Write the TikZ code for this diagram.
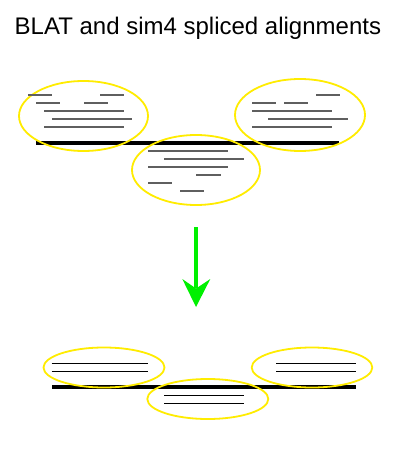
\documentclass[tikz,border=0pt]{standalone}
\usepackage{fontspec}
\setmainfont{Liberation Sans}
\usetikzlibrary{shapes.geometric}
\definecolor{ylw}{RGB}{255,236,0}
\definecolor{grn}{RGB}{0,240,0}
\definecolor{gry}{RGB}{95,95,95}
\tikzset{
  oval/.style={ellipse, draw=ylw, line width=1.8pt, inner sep=0pt},
  hitline/.style={draw=gry, line width=1.5pt},
  mergeline/.style={draw=black, line width=1.1pt},
  genome/.style={draw=black, line width=4.2pt},
}
\begin{document}
\begin{tikzpicture}[x=1pt,y=-1pt]
\useasboundingbox (0,0) rectangle (418,468);
\fill[white] (0,0) rectangle (418,468);
% title
\node[anchor=base west, inner sep=0pt, font=\fontsize{24}{28}\selectfont] (title) at (14.5,34.3) {BLAT and sim4 spliced alignments};
% top genome line
\draw[genome] (36,143) -- (339,143);
% top ellipses
\node[oval, minimum width=129pt, minimum height=70pt] (tl) at (83.5,116) {};
\node[oval, minimum width=130pt, minimum height=72pt] (tr) at (300,115) {};
\node[oval, minimum width=128pt, minimum height=70pt] (tm) at (196,170) {};
% left cluster
\draw[hitline] (28,95) -- (52,95);
\draw[hitline] (100,95) -- (124,95);
\draw[hitline] (36,103) -- (60,103);
\draw[hitline] (84,103) -- (108,103);
\draw[hitline] (44,111) -- (124,111);
\draw[hitline] (52,119) -- (132,119);
\draw[hitline] (44,127) -- (124,127);
% right cluster
\draw[hitline] (316,95) -- (340,95);
\draw[hitline] (252,103) -- (276,103);
\draw[hitline] (284,103) -- (308,103);
\draw[hitline] (252,111) -- (332,111);
\draw[hitline] (268,119) -- (348,119);
\draw[hitline] (252,127) -- (332,127);
% middle cluster
\draw[hitline] (148,151) -- (228,151);
\draw[hitline] (164,159) -- (244,159);
\draw[hitline] (148,167) -- (228,167);
\draw[hitline] (196,175) -- (220.5,175);
\draw[hitline] (148,183) -- (172.3,183);
\draw[hitline] (180,191) -- (204.3,191);
% arrow
\coordinate (as) at (196,227);
\coordinate (ae) at (196,288);
\draw[grn, line width=4pt] (as) -- (ae);
\fill[grn] (182.3,279) -- (196,288.5) -- (210.3,279) -- (196,307) -- cycle;
% bottom genome line
\draw[genome] (52,387.3) -- (356,387.3);
% bottom ellipses
\node[oval, minimum width=121pt, minimum height=40pt] (bl) at (104,367.5) {};
\node[oval, minimum width=120.6pt, minimum height=40pt] (br) at (312,367.5) {};
\node[oval, minimum width=121pt, minimum height=40pt] (bm) at (207.8,399) {};
% merged lines
\draw[mergeline] (51.7,363.3) -- (148.3,363.3);
\draw[mergeline] (51.7,371.7) -- (148.3,371.7);
\draw[mergeline] (276,363.3) -- (356,363.3);
\draw[mergeline] (276,371.7) -- (356,371.7);
\draw[mergeline] (164,395.3) -- (244,395.3);
\draw[mergeline] (164,403.3) -- (244,403.3);
\end{tikzpicture}
\end{document}
